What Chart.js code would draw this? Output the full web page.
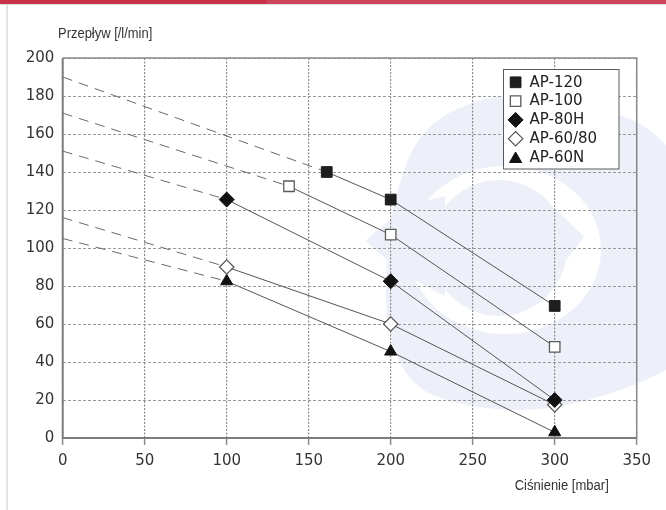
<!DOCTYPE html>
<html>
<head>
<meta charset="utf-8">
<script src="https://cdn.jsdelivr.net/npm/chart.js@4/dist/chart.umd.min.js"></script>
<style>
html,body{margin:0;padding:0;background:#fff;}
#wrap{position:relative;width:666px;height:510px;overflow:hidden;}
</style>
</head>
<body>
<div id="wrap"><canvas id="c" width="666" height="510"></canvas></div>
<script>
// ---- data ----
const seriesNames = ['AP-120', 'AP-100', 'AP-80H', 'AP-60/80', 'AP-60N'];
const pressureAP120 = [161, 200, 300];
const flowAP120     = [140, 125.5, 69.5];
const pressureAP100 = [138, 200, 300];
const flowAP100     = [132.5, 107, 48];
const pressureAP80H = [100, 200, 300];
const flowAP80H     = [125.5, 82.5, 20];
const pressureAP6080 = [100, 200, 300];
const flowAP6080     = [90, 60, 17.5];
const pressureAP60N = [100, 200, 300];
const flowAP60N     = [82.5, 45.5, 3];
// extrapolated flow at 0 mbar (dashed lines)
const flowAtZero = [190, 171, 151, 116, 105];
const xTickValues = [0, 50, 100, 150, 200, 250, 300, 350];
const yTickValues = [0, 20, 40, 60, 80, 100, 120, 140, 160, 180, 200];
const xTitle = 'Ciśnienie [mbar]';
const yTitle = 'Przepływ [/l/min]';

// ---- styling ----
const pressures = [pressureAP120, pressureAP100, pressureAP80H, pressureAP6080, pressureAP60N];
const flows = [flowAP120, flowAP100, flowAP80H, flowAP6080, flowAP60N];
const markerStyle = [
  {style: 'rect',     r: 7.6, fill: '#1e1e1e', stroke: '#1e1e1e', lw: 1},
  {style: 'rect',     r: 7.4, fill: '#ffffff', stroke: '#5a5a5a', lw: 1.3},
  {style: 'rectRot',  r: 7.5, fill: '#111111', stroke: '#111111', lw: 1},
  {style: 'rectRot',  r: 7.2, fill: '#ffffff', stroke: '#555555', lw: 1.2},
  {style: 'triangle', r: 7.0, fill: '#111111', stroke: '#111111', lw: 1}
];
const TICK_FONT = '"DejaVu Sans", Verdana, sans-serif';
const WM = '#eef0f9';

const toPts = (xs, ys) => xs.map((x, i) => ({x: x, y: ys[i]}));

const datasets = [];
seriesNames.forEach((name, i) => {
  const m = markerStyle[i];
  datasets.push({
    label: name,
    data: toPts(pressures[i], flows[i]),
    showLine: true,
    borderColor: '#555555',
    borderWidth: 1,
    pointStyle: m.style,
    pointRadius: m.r,
    pointHoverRadius: m.r,
    pointBackgroundColor: m.fill,
    pointBorderColor: m.stroke,
    pointBorderWidth: m.lw,
    isSeries: true
  });
});
seriesNames.forEach((name, i) => {
  datasets.push({
    label: name + ' (ekstrapolacja)',
    data: [{x: 0, y: flowAtZero[i]}, {x: pressures[i][0], y: flows[i][0]}],
    showLine: true,
    borderColor: '#6a6a6a',
    borderWidth: 1,
    borderDash: [10, 7],
    pointRadius: 0,
    pointHoverRadius: 0,
    isSeries: false
  });
});

function drawMarker(ctx, m, x, y) {
  const r = m.r;
  ctx.save();
  ctx.beginPath();
  if (m.style === 'rect') {
    const s = r * Math.SQRT1_2;
    ctx.rect(x - s, y - s, 2 * s, 2 * s);
  } else if (m.style === 'rectRot') {
    ctx.moveTo(x, y - r); ctx.lineTo(x + r, y); ctx.lineTo(x, y + r); ctx.lineTo(x - r, y); ctx.closePath();
  } else {
    ctx.moveTo(x, y - r);
    ctx.lineTo(x + r * 0.866, y + r * 0.5);
    ctx.lineTo(x - r * 0.866, y + r * 0.5);
    ctx.closePath();
  }
  ctx.fillStyle = m.fill; ctx.fill();
  ctx.lineWidth = m.lw; ctx.strokeStyle = m.stroke; ctx.stroke();
  ctx.restore();
}

function smoothClosed(ctx, pts) {
  const n = pts.length;
  const mid = (a, b) => [(a[0] + b[0]) / 2, (a[1] + b[1]) / 2];
  let m0 = mid(pts[n - 1], pts[0]);
  ctx.beginPath();
  ctx.moveTo(m0[0], m0[1]);
  for (let i = 0; i < n; i++) {
    const p = pts[i], m = mid(p, pts[(i + 1) % n]);
    ctx.quadraticCurveTo(p[0], p[1], m[0], m[1]);
  }
  ctx.closePath();
}

const backdrop = {
  id: 'backdrop',
  beforeDraw(chart) {
    const ctx = chart.ctx;
    ctx.save();
    ctx.fillStyle = '#ffffff';
    ctx.fillRect(0, 0, chart.width, chart.height);
    // watermark: outer shape
    ctx.fillStyle = WM;
    smoothClosed(ctx, [[393,200],[418,132],[470,100],[530,93],[600,106],[660,132],[705,200],[705,345],[662,374],[600,398],[533,412],[460,406],[410,386],[386,330],[386,262]]);
    ctx.fill();
    // white ring
    ctx.fillStyle = '#ffffff';
    ctx.beginPath();
    ctx.ellipse(505, 250, 96, 84, 0, 0, Math.PI * 2);
    ctx.fill();
    // inner disc with tail and right tip
    ctx.fillStyle = WM;
    ctx.beginPath();
    ctx.arc(499, 248, 68, 0, Math.PI * 2);
    ctx.fill();
    ctx.beginPath();
    ctx.moveTo(366, 241);
    ctx.quadraticCurveTo(400, 205, 445, 196);
    ctx.lineTo(445, 296);
    ctx.quadraticCurveTo(400, 275, 366, 241);
    ctx.fill();
    ctx.beginPath();
    ctx.moveTo(555, 208);
    ctx.lineTo(584, 237);
    ctx.lineTo(555, 275);
    ctx.closePath();
    ctx.fill();
    // page decorations
    ctx.fillStyle = '#c9334a';
    ctx.fillRect(0, 0, 267, 4);
    ctx.fillStyle = '#cd4558';
    ctx.fillRect(267, 0, chart.width - 267, 4);
    ctx.fillStyle = '#dcdce2';
    ctx.fillRect(0, 4, chart.width, 1);
    ctx.fillStyle = '#e2e2e2';
    ctx.fillRect(6, 5, 2, chart.height - 5);
    ctx.restore();
  },
  beforeDatasetsDraw(chart) {
    const ctx = chart.ctx, a = chart.chartArea;
    ctx.save();
    ctx.setLineDash([]);
    ctx.strokeStyle = '#8a8a8a';
    ctx.lineWidth = 1.5;
    ctx.beginPath();
    ctx.moveTo(a.left, a.top); ctx.lineTo(a.right, a.top); ctx.lineTo(a.right, a.bottom);
    ctx.stroke();
    ctx.strokeStyle = '#7c7c7c';
    ctx.lineWidth = 2;
    ctx.beginPath();
    ctx.moveTo(a.left, a.top); ctx.lineTo(a.left, a.bottom); ctx.lineTo(a.right, a.bottom);
    ctx.stroke();
    ctx.restore();
  },
  afterDraw(chart) {
    const ctx = chart.ctx;
    ctx.save();
    // axis titles
    ctx.fillStyle = '#333333';
    ctx.font = '14px "Liberation Sans", Arial, sans-serif';
    ctx.textBaseline = 'alphabetic';
    ctx.textAlign = 'left';
    ctx.save(); ctx.translate(58, 37.5); ctx.scale(0.925, 1); ctx.fillText(yTitle, 0, 0); ctx.restore();
    ctx.save(); ctx.translate(514.7, 490); ctx.scale(0.93, 1); ctx.fillText(xTitle, 0, 0); ctx.restore();
    // legend
    const bx = 503.5, by = 69.5, bw = 115.5, bh = 99.5;
    ctx.fillStyle = '#ffffff';
    ctx.fillRect(bx, by, bw, bh);
    ctx.strokeStyle = '#5a5a5a';
    ctx.lineWidth = 1;
    ctx.strokeRect(bx, by, bw, bh);
    ctx.font = '15px ' + TICK_FONT;
    ctx.textBaseline = 'middle';
    chart.data.datasets.filter(d => d.isSeries).forEach((d, i) => {
      const y = 82.3 + i * 18.8;
      const m = markerStyle[i];
      drawMarker(ctx, m, 515.6, m.style === 'triangle' ? y + 1.5 : y);
      ctx.fillStyle = '#222222';
      ctx.fillText(d.label, 529.5, y + 0.5);
    });
    ctx.restore();
  }
};

new Chart(document.getElementById('c'), {
  type: 'scatter',
  data: {datasets: datasets},
  plugins: [backdrop],
  options: {
    responsive: false,
    animation: false,
    devicePixelRatio: 1,
    layout: {padding: {top: 58, right: 29.3, bottom: 0, left: 0}},
    plugins: {legend: {display: false}, tooltip: {enabled: false}},
    scales: {
      x: {
        type: 'linear',
        min: xTickValues[0],
        max: xTickValues[xTickValues.length - 1],
        afterFit(scale) { scale.height = 72; },
        afterBuildTicks(scale) { scale.ticks = xTickValues.map(v => ({value: v})); },
        grid: {
          color: '#8c8c8c',
          lineWidth: 1.2,
          drawTicks: true,
          tickLength: 7,
          tickColor: '#8c8c8c',
          tickWidth: 1.5,
          tickBorderDash: []
        },
        border: {display: false, dash: [2, 1.5]},
        ticks: {
          padding: 7,
          color: '#333333',
          font: {family: TICK_FONT, size: 15},
          maxRotation: 0,
          callback: v => String(v)
        }
      },
      y: {
        type: 'linear',
        min: yTickValues[0],
        max: yTickValues[yTickValues.length - 1],
        afterFit(scale) { scale.width = 62.7; },
        afterBuildTicks(scale) { scale.ticks = yTickValues.map(v => ({value: v})); },
        grid: {
          color: '#9a9a9a',
          lineWidth: 1,
          drawTicks: false
        },
        border: {display: false, dash: [3, 2]},
        ticks: {
          padding: 8.4,
          color: '#333333',
          font: {family: TICK_FONT, size: 15},
          callback: v => String(v)
        }
      }
    }
  }
});
</script>
</body>
</html>
